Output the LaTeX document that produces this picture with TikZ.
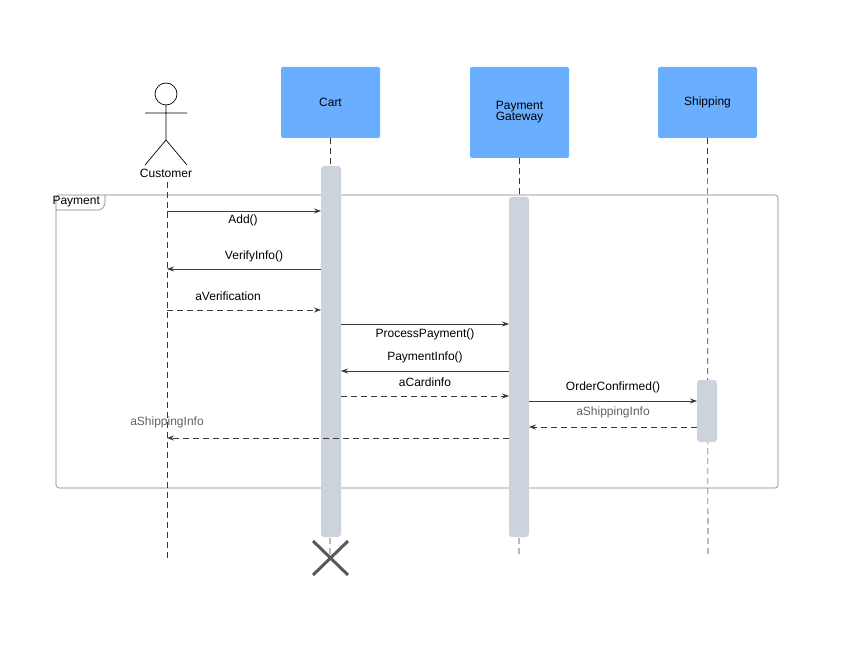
\documentclass[tikz,border=0pt]{standalone}
\usepackage{fontspec}
\setmainfont{Liberation Sans}
\usetikzlibrary{arrows.meta}
\definecolor{hb}{HTML}{6AAFFF}
\definecolor{act}{HTML}{CDD3DC}
\definecolor{ln}{HTML}{3A3A3A}
\begin{document}
\begin{tikzpicture}[x=1pt,y=-1pt,
  head/.style={draw=none,fill=hb,rounded corners=2pt},
  lifeline/.style={draw=ln,dash pattern=on 6pt off 4pt,line width=0.6pt},
  actbar/.style={fill=act,draw=none,rounded corners=3pt},
  msg/.style={draw=ln,line width=0.7pt,-{Stealth[length=7pt,width=5pt]}},
  ret/.style={msg,dash pattern=on 6pt off 4pt},
  lab/.style={font=\fontsize{12}{14}\selectfont,text=black},
  glab/.style={lab,text=ln!80}]
\useasboundingbox (0,0) rectangle (847,650);
% frame
\draw[draw=gray,rounded corners=3pt,line width=0.6pt] (56,195) rectangle (778,488);
\draw[draw=gray,line width=0.6pt,rounded corners=2pt] (56,210) -- (101,210) -- (105,205) -- (105,195);
\node[lab,anchor=west] (fl) at (49,202) {Payment};
% actor
\draw[line width=0.7pt] (166,94) circle (11);
\draw[line width=0.7pt] (166,105) -- (166,140) (145,113) -- (187,113) (145,165) -- (166,140) -- (187,165);
\node[lab] (cust) at (166,173) {Customer};
% heads
\node[head,minimum width=99pt,minimum height=71pt] (cart) at (330.5,102.5) {\fontsize{12}{14}\selectfont Cart};
\node[head,minimum width=99pt,minimum height=91pt,align=center] (pg) at (519.5,112.5) {\fontsize{12}{14}\selectfont Payment\\[-1pt]\fontsize{12}{14}\selectfont Gateway};
\node[head,minimum width=99pt,minimum height=71pt] (sh) at (707.5,102.5) {\fontsize{12}{14}\selectfont Shipping};
% lifelines
\coordinate (ce) at (167,558); \coordinate (ca) at (330,558);
\coordinate (pe) at (519,558); \coordinate (se) at (708,558);
\draw[lifeline] (167,182) -- (ce);
\draw[lifeline] (cart.south) -- (ca);
\draw[lifeline] (pg.south) -- (pe);
\draw[lifeline] (sh.south) -- (se);
% activation bars
\node[actbar,minimum width=20pt,minimum height=371pt,inner sep=0] (ac) at (331,351.5) {};
\node[actbar,minimum width=20pt,minimum height=340pt,inner sep=0] (ap) at (519,367) {};
\node[actbar,minimum width=20pt,minimum height=62pt,inner sep=0] (as) at (707,411) {};
% destroy
\draw[draw=ln!85,line width=3pt] (313,541) -- (348,575) (348,541) -- (313,575);
% messages
\draw[msg] (167,211) -- (321,211); \node[lab] at (243,220) {Add()};
\draw[msg] (321,269) -- (167,269); \node[lab] at (254,256) {VerifyInfo()};
\draw[ret] (167,310) -- (321,310); \node[lab] at (228,296) {aVerification};
\draw[msg] (341,324) -- (509,324); \node[lab] at (425,334) {ProcessPayment()};
\draw[msg] (509,371) -- (341,371); \node[lab] at (425,357) {PaymentInfo()};
\draw[ret] (341,396) -- (509,396); \node[lab] at (425,382) {aCardinfo};
\draw[msg] (529,401) -- (697,401); \node[lab] at (613,387) {OrderConfirmed()};
\draw[ret] (697,427) -- (529,427); \node[glab] at (613,412) {aShippingInfo};
\draw[ret] (509,438) -- (167,438); \node[glab] at (167,422) {aShippingInfo};
\end{tikzpicture}
\end{document}
